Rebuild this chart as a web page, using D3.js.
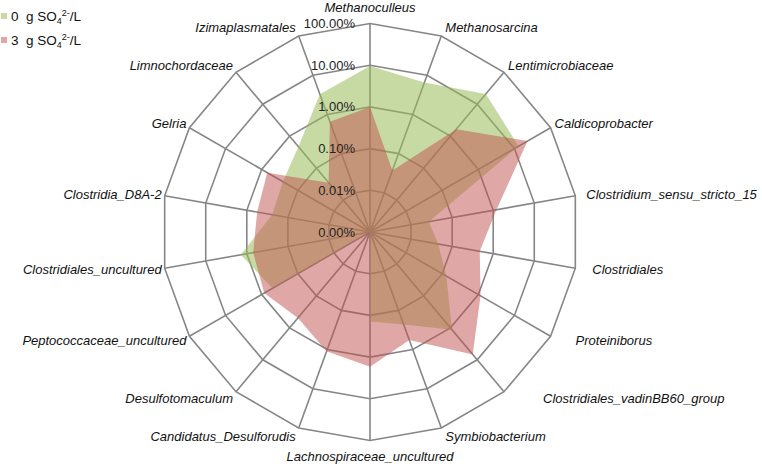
<!DOCTYPE html>
<html>
<head>
<meta charset="utf-8">
<script src="https://cdn.jsdelivr.net/npm/d3@7"></script>
<style>
  html, body { margin: 0; padding: 0; background: #fff; }
  svg { display: block; font-family: "Liberation Sans", Arial, sans-serif; }
</style>
</head>
<body>
<svg id="chart" width="762" height="464"></svg>
<script>
// ---- data ----
const categories = [
  "Methanoculleus", "Methanosarcina", "Lentimicrobiaceae", "Caldicoprobacter",
  "Clostridium_sensu_stricto_15", "Clostridiales", "Proteiniborus",
  "Clostridiales_vadinBB60_group", "Symbiobacterium", "Lachnospiraceae_uncultured",
  "Candidatus_Desulforudis", "Desulfotomaculum", "Peptococcaceae_uncultured",
  "Clostridiales_uncultured", "Clostridia_D8A-2", "Gelria", "Limnochordaceae",
  "Izimaplasmatales"
];
// relative abundance (%)
const sulfate0 = [9.6, 6.5, 21, 13, 0.027, 0.046, 0.13, 1.15, 0.23, 0.14, 0.001, 0.001, 0.5, 1.4, 0.24, 0.26, 0.47, 3.3];
const sulfate3 = [1.0, 0.037, 1.66, 23, 1.2, 0.47, 1.15, 6.8, 0.57, 1.7, 1.1, 0.49, 0.85, 0.7, 0.56, 0.7, 0.035, 0.65];
const tickValues = [0.001, 0.01, 0.1, 1, 10, 100];
const tickLabels = ["0.00%", "0.01%", "0.10%", "1.00%", "10.00%", "100.00%"];
const seriesNames = ["0", "3"];

// ---- layout ----
const cx = 370, cy = 232, R = 208.5;
const labelNudge = [0, 0, 0, 0, 7, 13, 21, 35, 0, 0, 0, 0, 0, 0, 0, 0, 0, 0];
const colors = ["rgb(155,187,89)", "rgb(192,80,77)"];
const opac = [0.55, 0.5];

const svg = d3.select("#chart");
const g = svg.append("g").attr("transform", `translate(${cx},${cy})`);

const n = categories.length;
const angle = d3.scaleLinear().domain([0, n]).range([0, 2 * Math.PI]);
const r = d3.scaleLog().domain([0.001, 100]).range([0, R]).clamp(true);

// grid rings
const ringLine = d3.lineRadial()
  .angle((d, i) => angle(i))
  .radius(d => d)
  .curve(d3.curveLinearClosed);

const gridG = g.append("g");
tickValues.slice(1).forEach(t => {
  gridG.append("path")
    .attr("d", ringLine(categories.map(() => r(t))))
    .attr("fill", "none")
    .attr("stroke", "#868686")
    .attr("stroke-width", 1.6);
});
// spokes
categories.forEach((c, i) => {
  const a = angle(i);
  gridG.append("line")
    .attr("x1", 0).attr("y1", 0)
    .attr("x2", R * Math.sin(a)).attr("y2", -R * Math.cos(a))
    .attr("stroke", "#868686")
    .attr("stroke-width", 1.6);
});

// series areas
const areaLine = d3.lineRadial()
  .angle((d, i) => angle(i))
  .radius(d => r(d))
  .curve(d3.curveLinearClosed);

[sulfate0, sulfate3].forEach((s, k) => {
  g.append("path")
    .attr("d", areaLine(s))
    .attr("fill", colors[k])
    .attr("fill-opacity", opac[k])
    .attr("stroke", "none");
});

// tick labels
tickValues.forEach((t, i) => {
  g.append("text")
    .attr("x", -15)
    .attr("y", -r(t))
    .attr("text-anchor", "end")
    .attr("dominant-baseline", "central")
    .attr("font-size", 13)
    .attr("fill", "#222")
    .text(tickLabels[i]);
});

// category labels
categories.forEach((c, i) => {
  const a = angle(i);
  const s = Math.sin(a), co = Math.cos(a);
  const vx = R * s, vy = -R * co;
  let anchor = "middle", x = vx, y = vy;
  if (s > 0.05) { anchor = "start"; x = vx + 4 + labelNudge[i]; }
  else if (s < -0.05) { anchor = "end"; x = vx - 3 - labelNudge[i]; }
  y = vy - co * 9;
  if (Math.abs(s) <= 0.05) y = vy - co * 16;
  g.append("text")
    .attr("x", x).attr("y", y)
    .attr("text-anchor", anchor)
    .attr("dominant-baseline", "central")
    .attr("font-size", 13)
    .attr("font-style", "italic")
    .attr("fill", "#111")
    .text(c);
});

// legend
const leg = svg.append("g");
seriesNames.forEach((nm, k) => {
  const y0 = 16 + k * 24;
  leg.append("rect")
    .attr("x", 1).attr("y", y0 - 3).attr("width", 6).attr("height", 6)
    .attr("fill", colors[k]).attr("fill-opacity", opac[k]);
  const t = leg.append("text")
    .attr("x", 11).attr("y", y0 + 4.5)
    .attr("font-size", 13.5)
    .attr("fill", "#111")
    .style("white-space", "pre");
  t.append("tspan").text(nm + "  g SO");
  t.append("tspan").attr("font-size", 9).attr("dy", 3).text("4");
  t.append("tspan").attr("font-size", 9).attr("dy", -8).text("2-");
  t.append("tspan").attr("dy", 5).text("/L");
});
</script>
</body>
</html>
